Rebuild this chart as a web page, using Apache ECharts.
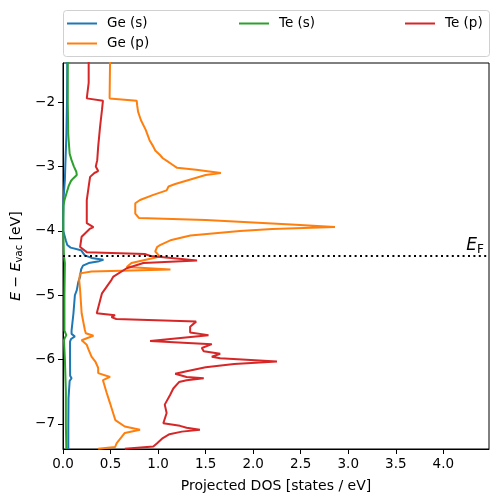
<!DOCTYPE html>
<html><head><meta charset="utf-8">
<script src="https://cdn.jsdelivr.net/npm/echarts@6/dist/echarts.min.js"></script>
<style>html,body{margin:0;padding:0;background:#fff}#c{width:498px;height:502px}</style>
</head><body><div id="c"></div>
<script>
// ---- data (energy in eV, projected DOS in states/eV) ----
const seriesNames = ['Ge (s)', 'Ge (p)', 'Te (s)', 'Te (p)'];
const fermiLevel = -4.39;
const xTicks = [0, 0.5, 1.0, 1.5, 2.0, 2.5, 3.0, 3.5, 4.0];
const yTicks = [-7, -6, -5, -4, -3, -2];

const geSEnergy = [-1.35,-2.00,-2.50,-3.00,-3.20,-3.50,-3.80,-4.00,-4.15,-4.22,-4.26,-4.30,-4.34,-4.38,-4.42,-4.45,-4.47,-4.50,-4.54,-4.60,-4.71,-4.80,-4.92,-5.00,-5.28,-5.55,-5.60,-5.64,-5.68,-5.72,-6.00,-6.25,-6.29,-6.33,-6.60,-7.00,-7.39];
const geSDos    = [0.045,0.042,0.036,0.024,0.020,0.006,0.002,0.003,0.030,0.045,0.080,0.190,0.210,0.230,0.300,0.425,0.380,0.270,0.210,0.190,0.180,0.160,0.145,0.125,0.110,0.090,0.090,0.125,0.085,0.074,0.074,0.075,0.090,0.070,0.058,0.056,0.056];

const gePEnergy = [-1.35,-1.94,-1.975,-2.05,-2.15,-2.28,-2.43,-2.59,-2.69,-2.75,-2.82,-2.87,-2.92,-2.96,-3.02,-3.05,-3.10,-3.13,-3.20,-3.27,-3.31,-3.34,-3.37,-3.44,-3.52,-3.57,-3.73,-3.80,-3.83,-3.90,-3.94,-3.97,-4.00,-4.07,-4.14,-4.22,-4.25,-4.32,-4.40,-4.43,-4.50,-4.56,-4.60,-4.63,-4.66,-4.76,-4.92,-5.28,-5.54,-5.59,-5.63,-5.70,-5.77,-5.85,-5.955,-6.03,-6.13,-6.21,-6.27,-6.32,-6.52,-6.68,-6.94,-7.04,-7.09,-7.14,-7.30,-7.36,-7.385];
const gePDos    = [0.495,0.490,0.775,0.780,0.790,0.820,0.870,0.910,0.950,0.970,1.020,1.050,1.100,1.140,1.200,1.400,1.660,1.500,1.340,1.180,1.110,1.130,1.090,0.950,0.810,0.760,0.760,0.800,1.500,2.400,2.860,2.200,1.860,1.340,1.140,1.020,0.990,0.970,1.020,0.930,0.720,0.670,1.130,0.300,0.180,0.170,0.180,0.196,0.230,0.240,0.320,0.196,0.250,0.270,0.300,0.340,0.370,0.370,0.495,0.420,0.460,0.495,0.550,0.650,0.810,0.650,0.565,0.547,0.370];

const teSEnergy = [-1.35,-2.00,-2.50,-2.80,-2.90,-3.00,-3.08,-3.13,-3.18,-3.22,-3.30,-3.40,-3.52,-3.60,-4.00,-4.39,-4.50,-5.00,-5.55,-5.62,-5.66,-5.70,-6.00,-6.50,-7.00,-7.39];
const teSDos    = [0.050,0.050,0.055,0.070,0.090,0.115,0.140,0.145,0.110,0.085,0.060,0.040,0.016,0.005,0.003,0.010,0.020,0.015,0.015,0.035,0.020,0.010,0.020,0.030,0.030,0.035];

const tePEnergy = [-1.35,-1.70,-1.94,-1.975,-2.12,-2.38,-2.69,-2.90,-3.00,-3.03,-3.07,-3.10,-3.16,-3.31,-3.52,-3.88,-3.94,-3.97,-3.99,-4.09,-4.25,-4.33,-4.36,-4.39,-4.46,-4.50,-4.58,-4.71,-4.76,-4.97,-5.28,-5.31,-5.34,-5.37,-5.41,-5.43,-5.49,-5.58,-5.62,-5.71,-5.76,-5.82,-5.87,-5.91,-5.955,-5.98,-6.03,-6.07,-6.12,-6.18,-6.22,-6.27,-6.29,-6.32,-6.35,-6.45,-6.55,-6.70,-6.83,-6.99,-7.03,-7.06,-7.09,-7.12,-7.16,-7.22,-7.30,-7.35,-7.385];
const tePDos    = [0.270,0.270,0.250,0.420,0.410,0.390,0.370,0.360,0.345,0.340,0.370,0.330,0.285,0.270,0.250,0.250,0.320,0.280,0.260,0.196,0.180,0.250,0.860,0.920,1.410,0.845,0.670,0.530,0.510,0.410,0.355,0.547,0.510,0.560,1.400,1.410,1.337,1.337,1.530,0.916,1.565,1.460,1.480,1.653,1.565,1.653,2.250,1.800,1.500,1.300,1.180,1.300,1.480,1.300,1.220,1.160,1.126,1.070,1.090,1.055,1.230,1.300,1.440,1.250,1.120,1.050,0.990,0.950,0.650];

const colors = ['#1f77b4', '#ff7f0e', '#2ca02c', '#d62728'];
const energies = [geSEnergy, gePEnergy, teSEnergy, tePEnergy];
const dos = [geSDos, gePDos, teSDos, tePDos];

const FONT = 'DejaVu Sans';
const chart = echarts.init(document.getElementById('c'), null, {renderer: 'canvas'});
const minus = v => (v < 0 ? '\u2212' + Math.abs(v) : String(v));

const series = seriesNames.map((name, i) => ({
  name, type: 'line', showSymbol: false, symbol: 'none', clip: true,
  data: energies[i].map((e, k) => [dos[i][k], e]),
  lineStyle: {color: colors[i], width: 2}, itemStyle: {color: colors[i]},
  emphasis: {disabled: true}, animation: false
}));
series[3].markLine = {
  silent: true, symbol: 'none', animation: false,
  lineStyle: {color: '#000', type: [2, 3.4], width: 2},
  label: {
    show: true, position: 'insideEndTop', distance: [5, 0],
    formatter: '{i|E}{s|F}',
    rich: {
      i: {fontFamily: FONT, fontStyle: 'italic', fontSize: 17, color: '#000'},
      s: {fontFamily: FONT, fontSize: 12, color: '#000', padding: [8, 0, 0, 0]}
    }
  },
  data: [{yAxis: fermiLevel}]
};

const legendCommon = {
  orient: 'vertical', top: 16, padding: 0, itemWidth: 30, itemHeight: 2, icon: 'rect',
  itemGap: 5, selectedMode: false,
  textStyle: {fontFamily: FONT, fontSize: 13.5, color: '#000', lineHeight: 15, padding: [0, 0, 0, 5]}
};

chart.setOption({
  animation: false,
  backgroundColor: '#fff',
  textStyle: {fontFamily: FONT},
  grid: {left: 63, right: 9, top: 63, bottom: 53, show: true, borderColor: '#000', borderWidth: 1, backgroundColor: 'transparent'},
  legend: [
    Object.assign({}, legendCommon, {left: 67, data: [seriesNames[0], seriesNames[1]]}),
    Object.assign({}, legendCommon, {left: 239, data: [seriesNames[2]]}),
    Object.assign({}, legendCommon, {left: 405, data: [seriesNames[3]]})
  ],
  graphic: [{
    type: 'rect', left: 63, top: 10, z: -1,
    shape: {width: 426, height: 46, r: 3},
    style: {fill: '#fff', stroke: '#d0d0d0', lineWidth: 1}
  }],
  xAxis: {
    type: 'value', min: 0, max: 4.48,
    name: 'Projected DOS [states / eV]', nameLocation: 'middle', nameGap: 30,
    nameTextStyle: {fontFamily: FONT, fontSize: 14, color: '#000'},
    axisLine: {show: true, onZero: false, lineStyle: {color: '#000', width: 1}},
    axisTick: {show: true, length: 5, customValues: xTicks, lineStyle: {color: '#000'}},
    axisLabel: {customValues: xTicks, formatter: v => v.toFixed(1), color: '#000', fontFamily: FONT, fontSize: 13.5, margin: 8},
    splitLine: {show: false}
  },
  yAxis: {
    type: 'value', min: -7.39, max: -1.39,
    name: '{i|E} \u2212 {i|E}{s|vac} [eV]', nameLocation: 'middle', nameGap: 36, nameRotate: 90,
    nameTextStyle: {
      fontFamily: FONT, fontSize: 14, color: '#000',
      rich: {
        i: {fontFamily: FONT, fontStyle: 'italic', fontSize: 14, color: '#000'},
        s: {fontFamily: FONT, fontSize: 10, color: '#000', padding: [6, 0, 0, 0]}
      }
    },
    axisLine: {show: true, onZero: false, lineStyle: {color: '#000', width: 1}},
    axisTick: {show: true, length: 5, customValues: yTicks, lineStyle: {color: '#000'}},
    axisLabel: {customValues: yTicks, formatter: minus, color: '#000', fontFamily: FONT, fontSize: 13.5, margin: 8},
    splitLine: {show: false}
  },
  series
});
</script></body></html>
